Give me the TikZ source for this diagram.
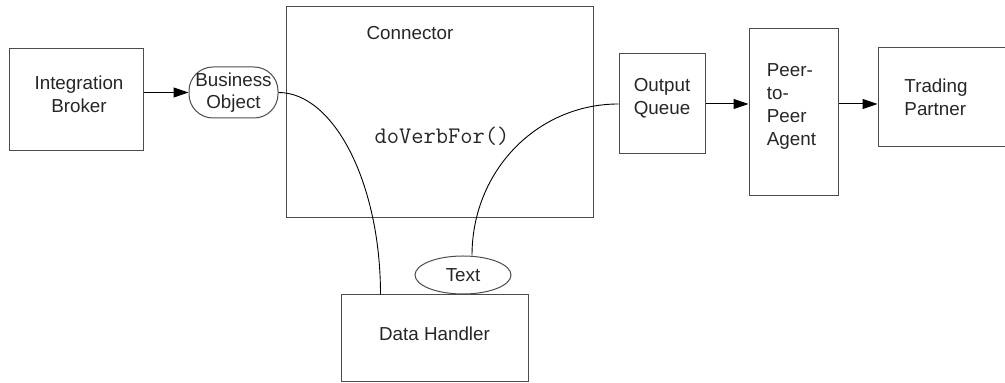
\documentclass[tikz,border=0pt]{standalone}
\usepackage{fontspec}
\setmainfont{Liberation Sans}
\usetikzlibrary{arrows.meta,shapes.geometric}

\begin{document}
\begin{tikzpicture}[x=0.5pt, y=-0.5pt,
	box/.style={draw=black!70, line width=0.5pt, inner sep=0pt},
	lbl/.style={font=\fontsize{9.4}{11.35}\selectfont, text=black!85, align=center, inner sep=0pt},
	arr/.style={line width=0.5pt, -{Triangle[length=7.5pt, width=5pt]}},
	wire/.style={line width=0.45pt}]
	\useasboundingbox (0,0) rectangle (1005,383);

	\node[box, minimum width=67pt, minimum height=51pt] (broker) at (76,100) {};
	\node[lbl] (brokertxt) at ([xshift=1.5pt, yshift=3pt]broker.center) {Integration\\Broker};
	\node[box, lbl, rounded corners=12pt, minimum width=44.5pt, minimum height=25.5pt] (bo) at (233.5,92.5) {Business\\Object};

	\node[box, minimum width=153.5pt, minimum height=105.5pt] (conn) at (439.5,112.5) {};
	\node[lbl] (conntxt) at (410,33) {Connector};
	\node[lbl, font=\ttfamily\fontsize{11.9}{14}\selectfont] (verb) at (442,136) {doVerbFor()};

	\node[box, minimum width=43pt, minimum height=50pt] (queue) at (662,104) {};
	\node[lbl] (queuetxt) at ([yshift=3pt]queue.center) {Output\\Queue};
	\node[box, minimum width=44.5pt, minimum height=83.5pt] (peer) at (793.5,112.5) {};
	\node[lbl, align=left] (peertxt) at (791.5,106.5) {Peer-\\to-\\Peer\\Agent};
	\node[box, minimum width=68.5pt, minimum height=49.5pt] (trade) at (946.5,97.5) {};
	\node[lbl, align=left] (tradetxt) at (936,97) {Trading\\Partner};

	\node[box, minimum width=93.5pt, minimum height=43.5pt] (handler) at (434.5,338.5) {};
	\node[lbl] (handlertxt) at ([yshift=2.5pt]handler.center) {Data Handler};
	\node[box, lbl, ellipse, minimum width=48pt, minimum height=19pt] (textobj) at (463,275) {Text};

	\draw[arr] (broker.east |- bo.west) -- (bo.west);
	\draw[arr] (queue.east) -- (queue.east -| peer.west);
	\draw[arr] (peer.east |- queue.east) -- (trade.west |- queue.east);

	\draw[wire] (bo.east) .. controls +(55,0) and +(0,-112) .. ([xshift=20pt]handler.north west);
	\draw[wire] ([xshift=4.5pt]textobj.north) .. controls +(0,-85) and +(-81,0) .. (queue.west);
\end{tikzpicture}
\end{document}
